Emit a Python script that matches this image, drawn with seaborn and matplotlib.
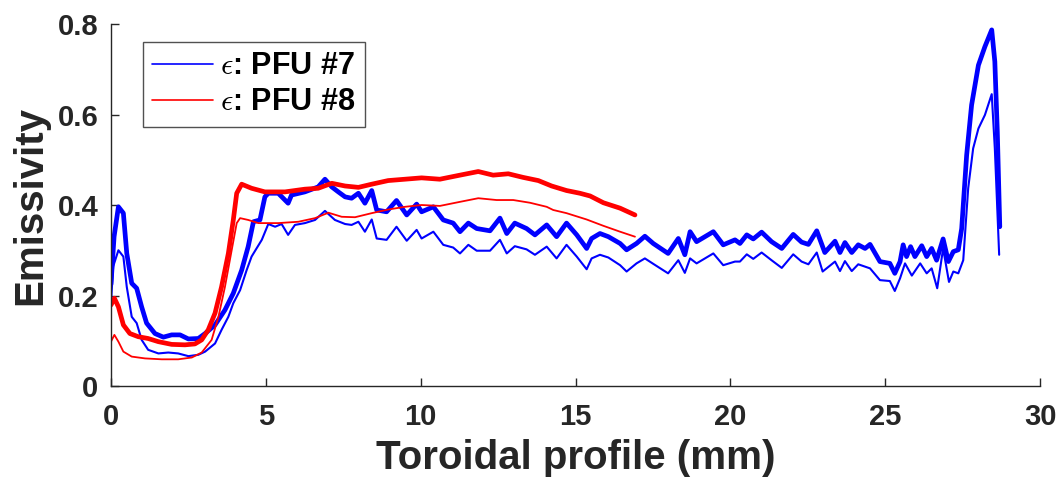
import matplotlib
matplotlib.use("Agg")
import matplotlib.pyplot as plt
from matplotlib.lines import Line2D
import numpy as np
import pandas as pd
import seaborn as sns

# Toroidal position (mm) and emissivity for PFU #7 (two profiles)
pfu7_a_x = [0.00, 0.10, 0.24, 0.40, 0.51, 0.67, 0.83, 0.99, 1.15, 1.42, 1.69, 1.96, 2.23, 2.50,
            2.82, 3.04, 3.36, 3.68, 3.95, 4.22, 4.43, 4.60, 4.81, 4.97, 5.08, 5.40, 5.72, 5.83,
            6.26, 6.69, 6.91, 7.13, 7.34, 7.56, 7.77, 7.99, 8.20, 8.42, 8.58, 8.90, 9.22, 9.55,
            9.87, 10.03, 10.41, 10.73, 11.05, 11.27, 11.54, 11.81, 12.24, 12.56, 12.78, 13.04,
            13.42, 13.69, 14.07, 14.39, 14.71, 15.04, 15.36, 15.52, 15.79, 16.06, 16.44, 16.65,
            16.97, 17.24, 17.51, 17.99, 18.32, 18.53, 18.70, 18.91, 19.45, 19.77, 20.15, 20.31,
            20.53, 20.74, 21.01, 21.33, 21.66, 22.03, 22.30, 22.52, 22.79, 23.05, 23.38, 23.54,
            23.70, 23.92, 24.13, 24.35, 24.51, 24.83, 25.15, 25.31, 25.48, 25.58, 25.69, 25.82,
            25.96, 26.18, 26.34, 26.50, 26.66, 26.87, 27.04, 27.20, 27.36, 27.47, 27.63, 27.79,
            28.01, 28.22, 28.44, 28.54, 28.62, 28.70]
pfu7_a_y = [0.225, 0.330, 0.396, 0.382, 0.293, 0.227, 0.216, 0.175, 0.139, 0.116, 0.108, 0.113,
            0.113, 0.104, 0.105, 0.116, 0.135, 0.168, 0.205, 0.256, 0.308, 0.363, 0.367, 0.418,
            0.426, 0.426, 0.404, 0.422, 0.429, 0.440, 0.457, 0.440, 0.429, 0.418, 0.415, 0.426,
            0.404, 0.432, 0.389, 0.385, 0.410, 0.378, 0.402, 0.385, 0.396, 0.367, 0.360, 0.341,
            0.360, 0.348, 0.343, 0.371, 0.337, 0.360, 0.348, 0.334, 0.356, 0.330, 0.360, 0.334,
            0.304, 0.326, 0.337, 0.330, 0.315, 0.301, 0.315, 0.331, 0.315, 0.293, 0.326, 0.290,
            0.341, 0.319, 0.341, 0.312, 0.323, 0.315, 0.334, 0.325, 0.340, 0.319, 0.304, 0.335,
            0.318, 0.313, 0.343, 0.295, 0.320, 0.295, 0.317, 0.295, 0.312, 0.304, 0.313, 0.275,
            0.271, 0.249, 0.275, 0.312, 0.286, 0.308, 0.286, 0.310, 0.286, 0.304, 0.278, 0.325,
            0.275, 0.297, 0.301, 0.348, 0.510, 0.621, 0.709, 0.750, 0.787, 0.717, 0.562, 0.352]

pfu7_b_x = [0.00, 0.07, 0.24, 0.40, 0.51, 0.67, 0.83, 0.99, 1.20, 1.53, 1.85, 2.17, 2.50, 2.82,
            3.04, 3.36, 3.57, 3.79, 3.95, 4.17, 4.38, 4.54, 4.70, 4.87, 5.08, 5.30, 5.51, 5.72,
            5.94, 6.26, 6.59, 6.91, 7.23, 7.56, 7.77, 7.99, 8.20, 8.42, 8.58, 8.90, 9.22, 9.55,
            9.87, 10.03, 10.41, 10.73, 11.05, 11.27, 11.54, 11.81, 12.24, 12.56, 12.78, 13.04,
            13.42, 13.69, 14.07, 14.39, 14.71, 15.04, 15.36, 15.52, 15.79, 16.06, 16.44, 16.65,
            16.97, 17.24, 17.51, 17.99, 18.32, 18.53, 18.70, 18.91, 19.45, 19.77, 20.15, 20.31,
            20.53, 20.74, 21.01, 21.33, 21.66, 22.03, 22.30, 22.52, 22.79, 22.98, 23.38, 23.54,
            23.70, 23.92, 24.13, 24.51, 24.83, 25.15, 25.31, 25.48, 25.64, 25.86, 26.13, 26.34,
            26.50, 26.68, 26.87, 27.06, 27.20, 27.36, 27.52, 27.68, 27.84, 28.01, 28.22, 28.44,
            28.54, 28.68]
pfu7_b_y = [0.183, 0.264, 0.300, 0.286, 0.219, 0.153, 0.139, 0.102, 0.080, 0.072, 0.074, 0.072,
            0.066, 0.069, 0.076, 0.094, 0.124, 0.153, 0.183, 0.212, 0.256, 0.286, 0.304, 0.323,
            0.358, 0.352, 0.358, 0.334, 0.356, 0.360, 0.367, 0.387, 0.367, 0.358, 0.356, 0.363,
            0.341, 0.368, 0.326, 0.323, 0.352, 0.321, 0.345, 0.326, 0.341, 0.312, 0.306, 0.293,
            0.312, 0.299, 0.299, 0.323, 0.293, 0.309, 0.302, 0.290, 0.308, 0.282, 0.312, 0.286,
            0.258, 0.282, 0.290, 0.284, 0.267, 0.253, 0.271, 0.282, 0.270, 0.249, 0.278, 0.250,
            0.282, 0.271, 0.293, 0.267, 0.275, 0.275, 0.291, 0.281, 0.295, 0.278, 0.261, 0.291,
            0.275, 0.269, 0.295, 0.253, 0.275, 0.254, 0.276, 0.254, 0.269, 0.260, 0.234, 0.232,
            0.210, 0.238, 0.271, 0.244, 0.271, 0.249, 0.260, 0.216, 0.304, 0.230, 0.253, 0.249,
            0.278, 0.437, 0.525, 0.569, 0.599, 0.645, 0.525, 0.290]

# Toroidal position (mm) and emissivity for PFU #8 (two profiles)
pfu8_a_x = [0.00, 0.11, 0.24, 0.40, 0.61, 0.88, 1.20, 1.53, 1.96, 2.39, 2.71, 2.93, 3.14, 3.36,
            3.57, 3.79, 3.95, 4.06, 4.22, 4.54, 4.97, 5.62, 6.26, 6.69, 7.13, 7.56, 7.99, 8.42,
            8.95, 9.49, 10.03, 10.62, 11.27, 11.86, 12.34, 12.83, 13.31, 13.80, 14.23, 14.71,
            15.14, 15.47, 15.90, 16.44, 16.92]
pfu8_a_y = [0.179, 0.194, 0.175, 0.135, 0.116, 0.109, 0.105, 0.098, 0.092, 0.091, 0.093, 0.102,
            0.124, 0.161, 0.219, 0.293, 0.367, 0.426, 0.446, 0.437, 0.429, 0.429, 0.435, 0.437,
            0.448, 0.442, 0.439, 0.446, 0.454, 0.457, 0.460, 0.457, 0.466, 0.474, 0.466, 0.469,
            0.461, 0.454, 0.442, 0.432, 0.426, 0.420, 0.405, 0.393, 0.378]

pfu8_b_x = [0.00, 0.11, 0.24, 0.40, 0.67, 1.10, 1.64, 2.17, 2.61, 2.93, 3.25, 3.47, 3.68, 3.90,
            4.06, 4.17, 4.43, 4.76, 5.40, 6.05, 6.59, 7.02, 7.45, 7.88, 8.42, 8.95, 9.49, 10.03,
            10.62, 11.27, 11.86, 12.45, 12.99, 13.53, 14.07, 14.28, 14.71, 15.36, 15.90, 16.44,
            16.92]
pfu8_b_y = [0.098, 0.113, 0.098, 0.076, 0.065, 0.061, 0.059, 0.059, 0.063, 0.074, 0.102, 0.153,
            0.219, 0.301, 0.360, 0.371, 0.367, 0.360, 0.360, 0.363, 0.371, 0.383, 0.374, 0.373,
            0.382, 0.390, 0.396, 0.400, 0.398, 0.407, 0.415, 0.411, 0.411, 0.405, 0.396, 0.389,
            0.382, 0.368, 0.354, 0.341, 0.330]

legend_labels = [r"$\epsilon$: PFU #7", r"$\epsilon$: PFU #8"]
x_ticks = [0, 5, 10, 15, 20, 25, 30]
y_ticks = [0, 0.2, 0.4, 0.6, 0.8]

sns.set_theme(style="ticks")
plt.rcParams["font.family"] = ["Liberation Sans", "DejaVu Sans"]
plt.rcParams["mathtext.fontset"] = "cm"

ink = "#262626"
fig = plt.figure(figsize=(10.63, 4.83), dpi=100)
ax = fig.add_axes([0.1044, 0.2008, 0.8740, 0.7495])

curves = [
    (pfu7_a_x, pfu7_a_y, "#0000ff", 3.4),
    (pfu7_b_x, pfu7_b_y, "#0000ff", 1.5),
    (pfu8_a_x, pfu8_a_y, "#ff0000", 3.4),
    (pfu8_b_x, pfu8_b_y, "#ff0000", 1.3),
]
for xs, ys, col, lw in curves:
    df = pd.DataFrame({"x": xs, "y": ys})
    sns.lineplot(data=df, x="x", y="y", ax=ax, color=col, linewidth=lw,
                 sort=False, estimator=None, solid_joinstyle="round",
                 solid_capstyle="round")

ax.set_xlim(0, 30)
ax.set_ylim(0, 0.8)
ax.set_xticks(x_ticks)
ax.set_yticks(y_ticks)
ax.set_xticklabels([f"{t:g}" for t in x_ticks])
ax.set_yticklabels([f"{t:g}" for t in y_ticks])

sns.despine(ax=ax)
for s in ("left", "bottom"):
    ax.spines[s].set_color(ink)
    ax.spines[s].set_linewidth(1.0)

ax.tick_params(axis="both", direction="in", length=6, width=1.0, color=ink,
               labelsize=21, labelcolor=ink)
ax.tick_params(axis="x", pad=12)
ax.tick_params(axis="y", pad=9)
for lab in ax.get_xticklabels() + ax.get_yticklabels():
    lab.set_fontweight("bold")

ax.set_xlabel("Toroidal profile (mm)", fontsize=29, fontweight="bold", color=ink, labelpad=6)
ax.set_ylabel("Emissivity", fontsize=29, fontweight="bold", color=ink, labelpad=6)

handles = [Line2D([], [], color="#0000ff", lw=1.2), Line2D([], [], color="#ff0000", lw=1.2)]
leg = ax.legend(handles, legend_labels, loc="upper left", bbox_to_anchor=(0.034, 0.95),
                borderaxespad=0, frameon=True, fancybox=False, handlelength=2.0,
                handletextpad=0.25, labelspacing=0.2, borderpad=0.3,
                prop={"size": 22, "weight": "bold"})
leg.get_frame().set_edgecolor(ink)
leg.get_frame().set_linewidth(1.0)
for t in leg.get_texts():
    t.set_color("black")

fig.savefig("out.png", dpi=100)
